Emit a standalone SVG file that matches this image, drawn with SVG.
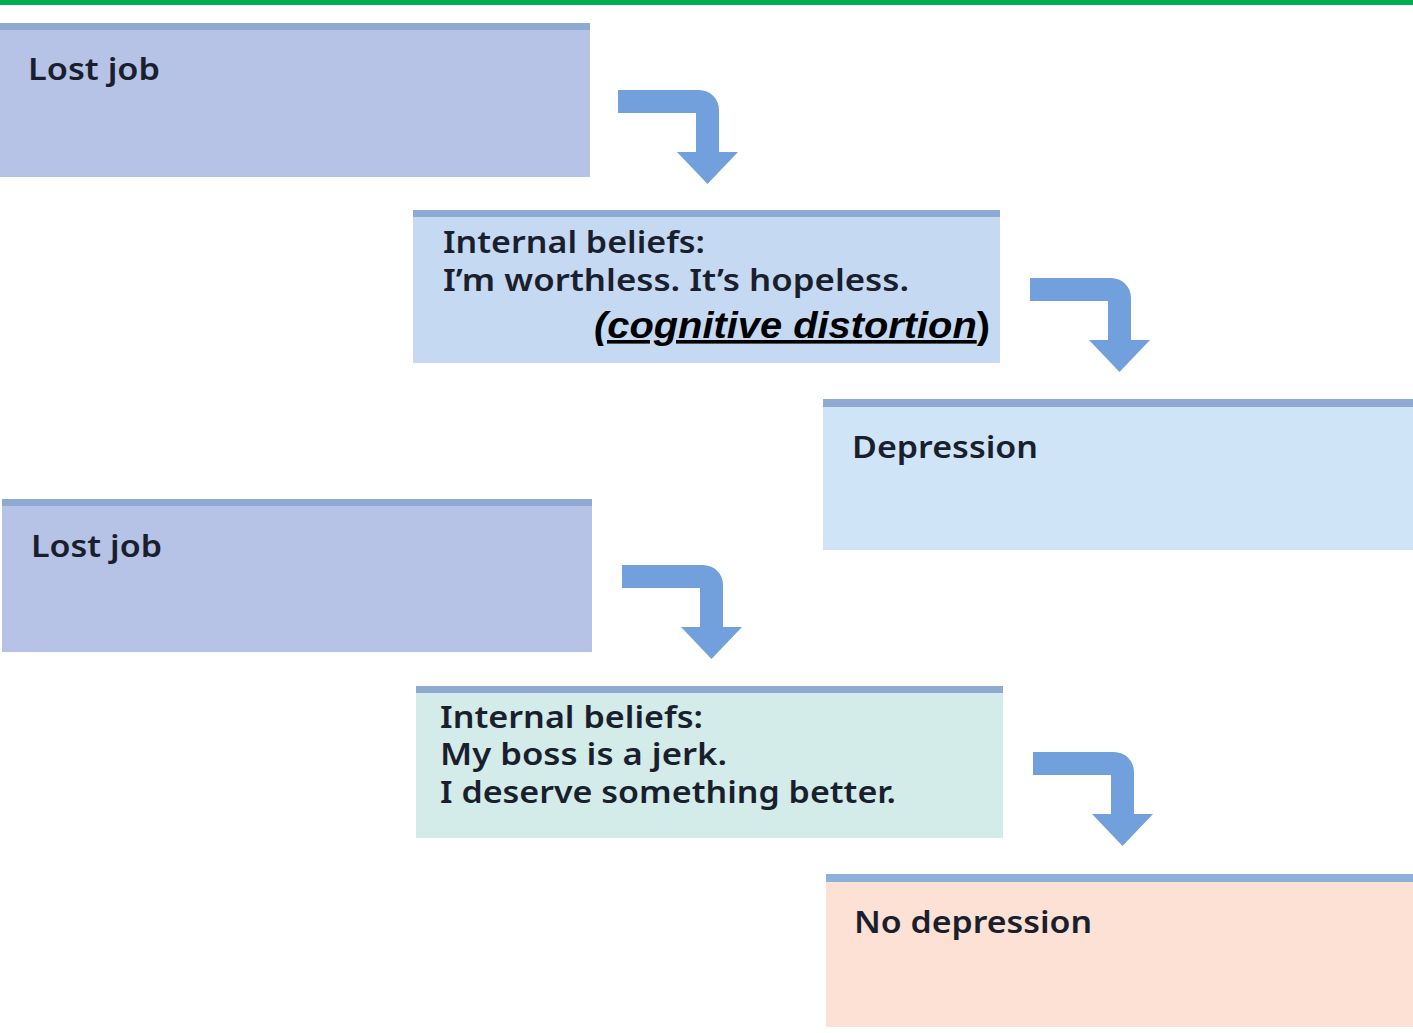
<svg xmlns="http://www.w3.org/2000/svg" width="1413" height="1033" viewBox="0 0 1413 1033">
<defs>
<style>
.band{fill:#8eaad3}
.t{font-family:"Noto Sans","Open Sans","DejaVu Sans",sans-serif;font-weight:600;font-size:30px;fill:#1a1f2e}
.cd{font-family:"Liberation Sans",Arial,sans-serif;font-weight:bold;font-size:36px;fill:#000}
.arr{fill:#72a0dc}
</style>
<path id="bend" d="M0,0 H81 A20,20 0 0 1 101,20 V62 H120 L89.5,94 L59,62 H78 V23 H0 Z"/>
</defs>
<rect width="1413" height="1033" fill="#fff"/>
<rect x="0" y="0" width="1413" height="5" fill="#00b050"/>

<g id="lost-job-1">
<rect x="0" y="23" width="590" height="154" fill="#b6c3e6"/>
<rect class="band" x="0" y="23" width="590" height="7"/>
<text class="t" x="28" y="80" textLength="132" lengthAdjust="spacingAndGlyphs">Lost job</text>
</g>

<g id="beliefs-1">
<rect x="413" y="210" width="587" height="153" fill="#c6d9f2"/>
<rect class="band" x="413" y="210" width="587" height="7"/>
<text class="t" x="443" y="253" textLength="262" lengthAdjust="spacingAndGlyphs">Internal beliefs:</text>
<text class="t" x="443" y="291" textLength="466" lengthAdjust="spacingAndGlyphs">I’m worthless. It’s hopeless.</text>
<text class="cd" x="594" y="338" textLength="396" lengthAdjust="spacingAndGlyphs"><tspan font-style="italic" text-decoration="underline">(cognitive distortion</tspan>)</text>
</g>

<g id="depression">
<rect x="823" y="399" width="590" height="151" fill="#d0e4f8"/>
<rect class="band" x="823" y="399" width="590" height="8"/>
<text class="t" x="852" y="458" textLength="186" lengthAdjust="spacingAndGlyphs">Depression</text>
</g>

<g id="lost-job-2">
<rect x="2" y="499" width="590" height="153" fill="#b6c3e6"/>
<rect class="band" x="2" y="499" width="590" height="7"/>
<text class="t" x="31" y="557" textLength="131" lengthAdjust="spacingAndGlyphs">Lost job</text>
</g>

<g id="beliefs-2">
<rect x="416" y="686" width="587" height="152" fill="#d3ebe9"/>
<rect class="band" x="416" y="686" width="587" height="7"/>
<text class="t" x="440" y="728" textLength="263" lengthAdjust="spacingAndGlyphs">Internal beliefs:</text>
<text class="t" x="440" y="765" textLength="287" lengthAdjust="spacingAndGlyphs">My boss is a jerk.</text>
<text class="t" x="440" y="803" textLength="456" lengthAdjust="spacingAndGlyphs">I deserve something better.</text>
</g>

<g id="no-depression">
<rect x="826" y="874" width="587" height="153" fill="#fde1d5"/>
<rect x="826" y="874" width="587" height="8" fill="#8fb0dc"/>
<text class="t" x="854" y="933" textLength="238" lengthAdjust="spacingAndGlyphs">No depression</text>
</g>

<g id="connectors" class="arr">
<use href="#bend" x="618" y="90"/>
<use href="#bend" x="1030" y="278"/>
<use href="#bend" x="622" y="565"/>
<use href="#bend" x="1033" y="752"/>
</g>
</svg>
